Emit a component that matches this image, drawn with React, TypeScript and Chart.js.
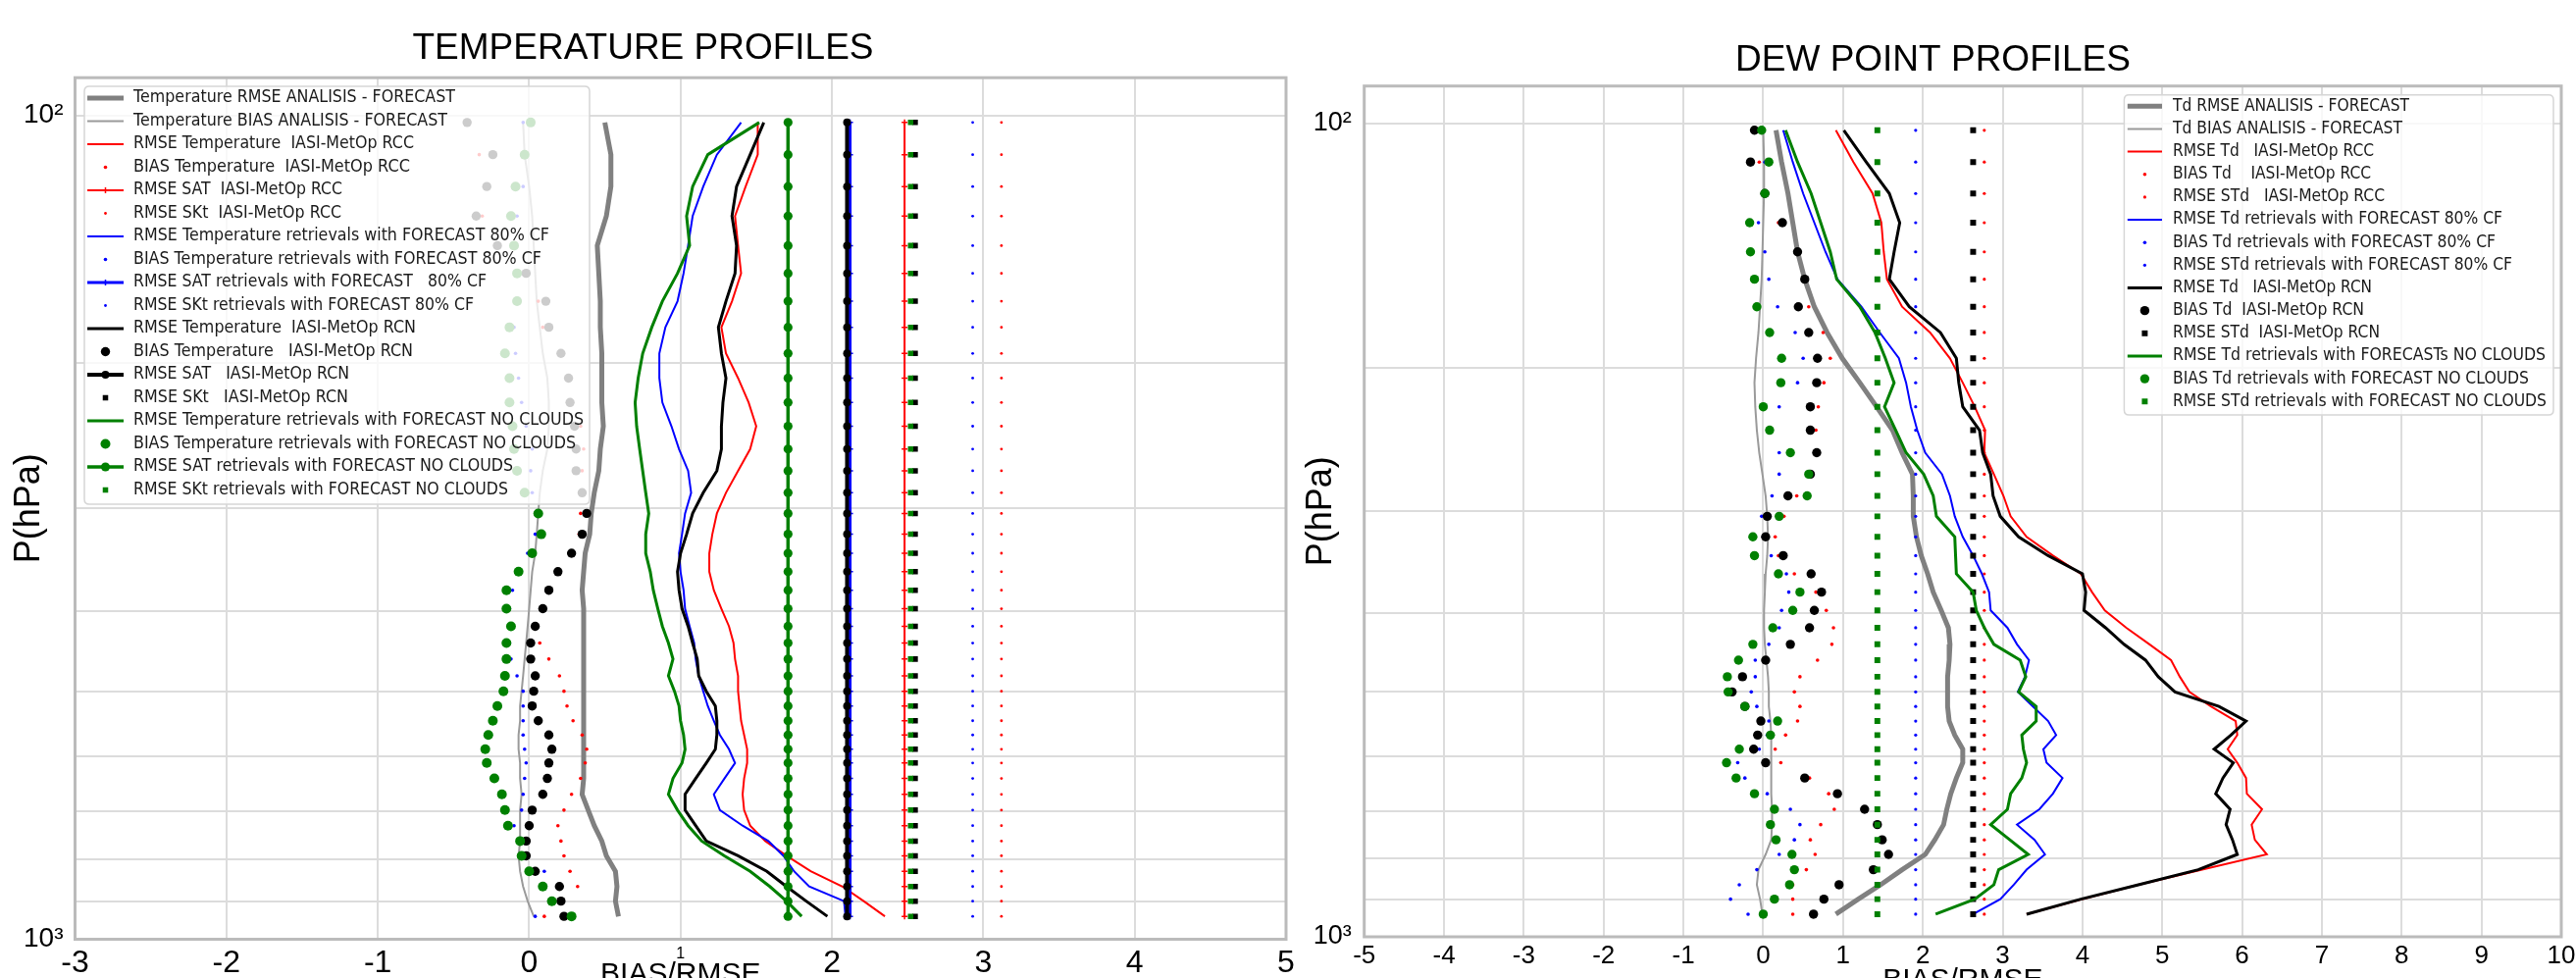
import React, { useEffect, useRef } from 'react';
import { Chart, registerables } from 'chart.js';

Chart.register(...registerables);

const SANS = '"Liberation Sans", Arial, Helvetica, sans-serif';
const LEGEND_FONT = '"DejaVu Sans", "Liberation Sans", sans-serif';

// ---------- data ----------
const LEVELS = [102, 111.6, 122, 132.5, 143.9, 155.5, 168.1, 180.8, 194.5, 208.4, 223.1, 238.4, 254.1, 270, 287.1, 304.2, 322.4, 340, 358, 377, 397, 417, 437, 457, 479, 500, 521, 543, 565, 588, 611, 638, 667, 697, 728, 760, 792, 827, 863, 899, 938];
const Y_TICKS = [100, 200, 300, 400, 500, 600, 700, 800, 900, 1000];
const Y_TICK_LABELS: Record<number, string> = { 100: '10²', 1000: '10³' };
const T_X_TICKS = [-3, -2, -1, 0, 1, 2, 3, 4, 5];
const TD_X_TICKS = [-5, -4, -3, -2, -1, 0, 1, 2, 3, 4, 5, 6, 7, 8, 9, 10];

// Temperature profiles
const T_RMSE_ANA = [0.50, 0.54, 0.54, 0.51, 0.45, 0.46, 0.47, 0.47, 0.48, 0.48, 0.48, 0.49, 0.47, 0.46, 0.43, 0.41, 0.40, 0.37, 0.36, 0.35, 0.36, 0.36, 0.36, 0.36, 0.36, 0.36, 0.36, 0.36, 0.36, 0.36, 0.36, 0.36, 0.35, 0.39, 0.43, 0.48, 0.51, 0.57, 0.58, 0.57, 0.59];
const T_BIAS_ANA = [-0.04, -0.03, 0.00, 0.02, 0.03, 0.04, 0.05, 0.07, 0.09, 0.12, 0.13, 0.13, 0.12, 0.09, 0.07, 0.06, 0.05, 0.04, 0.02, 0.01, 0.00, -0.01, -0.02, -0.03, -0.04, -0.05, -0.06, -0.06, -0.07, -0.07, -0.06, -0.06, -0.05, -0.06, -0.06, -0.06, -0.07, -0.06, -0.04, -0.01, 0.03];
const T_RMSE_RCC = [1.51, 1.51, 1.43, 1.36, 1.38, 1.40, 1.34, 1.27, 1.30, 1.38, 1.45, 1.50, 1.46, 1.38, 1.30, 1.24, 1.21, 1.19, 1.19, 1.22, 1.27, 1.32, 1.35, 1.36, 1.38, 1.38, 1.39, 1.40, 1.42, 1.44, 1.44, 1.42, 1.41, 1.42, 1.46, 1.56, 1.70, 1.86, 2.07, 2.21, 2.35];
const T_BIAS_RCC = [-0.40, -0.33, -0.28, -0.31, -0.20, -0.02, 0.06, 0.09, 0.20, 0.26, 0.27, 0.34, 0.36, 0.35, 0.35, 0.34, 0.33, 0.27, 0.19, 0.13, 0.09, 0.05, 0.07, 0.13, 0.20, 0.23, 0.25, 0.29, 0.35, 0.38, 0.37, 0.34, 0.28, 0.23, 0.19, 0.21, 0.23, 0.27, 0.32, 0.22, 0.10];
const T_SAT_RCC = 2.48;
const T_SKT_RCC = 3.12;
const T_RMSE_CF = [1.40, 1.24, 1.15, 1.08, 1.05, 1.02, 0.98, 0.90, 0.86, 0.86, 0.88, 0.94, 0.99, 1.05, 1.07, 1.03, 1.01, 0.99, 1.00, 1.02, 1.03, 1.06, 1.09, 1.10, 1.12, 1.15, 1.18, 1.22, 1.26, 1.32, 1.36, 1.29, 1.22, 1.26, 1.41, 1.58, 1.68, 1.75, 1.85, 2.08, 2.09];
const T_BIAS_CF = [-0.04, -0.04, -0.04, -0.08, -0.09, -0.09, -0.09, -0.10, -0.09, -0.07, -0.05, -0.02, 0.02, 0.01, 0.02, 0.05, 0.04, -0.01, -0.07, -0.11, -0.13, -0.12, -0.13, -0.12, -0.08, -0.04, -0.04, -0.04, -0.04, -0.03, -0.02, -0.03, -0.04, -0.05, -0.10, -0.06, -0.04, 0.10, 0.09, 0.14, 0.04];
const T_SAT_CF = 2.12;
const T_SKT_CF = 2.93;
const T_RMSE_RCN = [1.55, 1.46, 1.37, 1.34, 1.37, 1.36, 1.30, 1.25, 1.27, 1.30, 1.28, 1.27, 1.27, 1.24, 1.15, 1.08, 1.04, 1.00, 0.98, 0.99, 1.01, 1.05, 1.08, 1.11, 1.12, 1.17, 1.23, 1.24, 1.24, 1.23, 1.17, 1.10, 1.03, 1.03, 1.10, 1.17, 1.38, 1.57, 1.70, 1.83, 1.97];
const T_BIAS_RCN = [-0.41, -0.24, -0.28, -0.35, -0.21, -0.02, 0.11, 0.13, 0.21, 0.26, 0.27, 0.30, 0.31, 0.31, 0.35, 0.38, 0.35, 0.28, 0.19, 0.13, 0.09, 0.04, 0.01, 0.01, 0.04, 0.03, 0.02, 0.06, 0.13, 0.15, 0.13, 0.12, 0.09, 0.02, 0.00, -0.02, -0.02, 0.04, 0.20, 0.21, 0.23];
const T_SAT_RCN = 2.10;
const T_SKT_RCN = 2.55;
const T_RMSE_NC = [1.52, 1.18, 1.08, 1.04, 1.06, 0.98, 0.88, 0.81, 0.75, 0.72, 0.70, 0.71, 0.73, 0.75, 0.77, 0.79, 0.77, 0.77, 0.80, 0.82, 0.85, 0.88, 0.92, 0.95, 0.92, 0.96, 0.99, 1.00, 1.02, 1.03, 1.01, 0.95, 0.92, 0.98, 1.05, 1.14, 1.29, 1.46, 1.59, 1.70, 1.80];
const T_BIAS_NC = [0.01, -0.03, -0.09, -0.12, -0.10, -0.08, -0.08, -0.13, -0.16, -0.13, -0.13, -0.11, -0.10, -0.08, -0.03, 0.06, 0.08, 0.02, -0.07, -0.15, -0.15, -0.12, -0.15, -0.15, -0.16, -0.17, -0.21, -0.24, -0.27, -0.29, -0.28, -0.23, -0.18, -0.16, -0.14, -0.06, -0.05, 0.00, 0.09, 0.15, 0.28];
const T_SAT_NC = 1.71;
const T_SKT_NC = 2.52;

// Dew point profiles
const TD_RMSE_ANA = [0.16, 0.23, 0.31, 0.37, 0.43, 0.52, 0.64, 0.80, 0.99, 1.21, 1.42, 1.62, 1.74, 1.87, 1.88, 1.88, 1.92, 1.98, 2.06, 2.13, 2.23, 2.32, 2.34, 2.33, 2.31, 2.31, 2.31, 2.33, 2.40, 2.50, 2.50, 2.42, 2.35, 2.30, 2.26, 2.15, 2.03, 1.74, 1.47, 1.19, 0.91];
const TD_BIAS_ANA = [0.00, 0.01, 0.01, 0.00, -0.01, -0.02, -0.04, -0.06, -0.09, -0.11, -0.10, -0.08, -0.05, -0.01, 0.03, 0.05, 0.06, 0.05, 0.03, 0.02, 0.01, 0.01, 0.02, 0.04, 0.06, 0.07, 0.07, 0.09, 0.10, 0.10, 0.10, 0.10, 0.10, 0.11, 0.11, 0.10, 0.03, -0.06, -0.08, -0.04, -0.01];
const TD_RMSE_RCC = [0.91, 1.13, 1.37, 1.48, 1.51, 1.55, 1.74, 2.09, 2.34, 2.50, 2.65, 2.78, 2.77, 2.89, 3.01, 3.10, 3.30, 3.63, 3.98, 4.12, 4.28, 4.55, 4.84, 5.11, 5.22, 5.34, 5.61, 5.92, 5.94, 5.82, 5.94, 6.05, 6.06, 6.25, 6.12, 6.16, 6.31, 5.50, 4.70, 4.00, 3.30];
const TD_BIAS_RCC = [-0.05, -0.05, 0.05, 0.19, 0.40, 0.50, 0.57, 0.75, 0.84, 0.76, 0.69, 0.66, 0.68, 0.60, 0.42, 0.26, 0.15, 0.19, 0.39, 0.66, 0.79, 0.88, 0.86, 0.68, 0.46, 0.39, 0.46, 0.43, 0.28, 0.15, 0.22, 0.58, 0.82, 0.89, 0.72, 0.59, 0.65, 0.54, 0.37, 0.37, 0.37];
const TD_STD_RCC = 2.77;
const TD_RMSE_CF = [0.25, 0.37, 0.50, 0.64, 0.78, 0.93, 1.23, 1.46, 1.70, 1.79, 1.85, 1.93, 2.03, 2.24, 2.34, 2.40, 2.50, 2.63, 2.74, 2.83, 2.85, 3.06, 3.18, 3.33, 3.28, 3.19, 3.38, 3.57, 3.67, 3.51, 3.55, 3.75, 3.63, 3.46, 3.18, 3.40, 3.53, 3.30, 3.14, 2.97, 2.63];
const TD_BIAS_CF = [0.00, 0.02, 0.04, -0.06, 0.02, 0.07, 0.18, 0.40, 0.50, 0.43, 0.20, 0.08, 0.20, 0.20, 0.11, -0.02, 0.00, 0.10, 0.29, 0.32, 0.23, 0.20, 0.07, -0.10, -0.10, -0.15, -0.08, 0.07, 0.05, -0.05, -0.32, -0.23, 0.05, 0.34, 0.46, 0.39, 0.20, -0.08, -0.30, -0.41, -0.19];
const TD_STD_CF = 1.91;
const TD_RMSE_RCN = [1.01, 1.29, 1.58, 1.71, 1.64, 1.58, 1.83, 2.22, 2.42, 2.45, 2.50, 2.71, 2.75, 2.85, 2.88, 2.97, 3.20, 3.57, 4.00, 4.04, 4.02, 4.29, 4.52, 4.79, 4.95, 5.16, 5.71, 6.05, 5.86, 5.65, 5.89, 5.76, 5.67, 5.85, 5.80, 5.88, 5.94, 5.45, 4.70, 3.98, 3.30];
const TD_BIAS_RCN = [-0.11, -0.16, 0.02, 0.24, 0.43, 0.52, 0.44, 0.57, 0.68, 0.67, 0.59, 0.59, 0.67, 0.59, 0.31, 0.05, 0.03, 0.25, 0.60, 0.73, 0.64, 0.58, 0.34, 0.03, -0.26, -0.39, -0.23, -0.03, -0.07, -0.12, 0.03, 0.52, 0.93, 1.27, 1.43, 1.49, 1.57, 1.38, 0.95, 0.76, 0.63];
const TD_STD_RCN = 2.63;
const TD_RMSE_NC = [0.28, 0.43, 0.60, 0.72, 0.84, 0.92, 1.21, 1.40, 1.53, 1.64, 1.52, 1.66, 1.79, 2.01, 2.13, 2.17, 2.40, 2.41, 2.42, 2.63, 2.67, 2.77, 2.89, 3.22, 3.29, 3.20, 3.42, 3.42, 3.24, 3.26, 3.30, 3.24, 3.10, 3.06, 2.85, 3.09, 3.32, 2.95, 2.89, 2.65, 2.16];
const TD_BIAS_NC = [-0.02, 0.07, 0.02, -0.17, -0.16, -0.11, -0.08, 0.08, 0.23, 0.22, 0.00, 0.08, 0.34, 0.57, 0.55, 0.20, -0.13, -0.11, 0.19, 0.46, 0.37, 0.12, -0.13, -0.31, -0.45, -0.44, -0.23, 0.18, 0.09, -0.30, -0.46, -0.34, -0.11, 0.14, 0.09, 0.16, 0.36, 0.39, 0.33, 0.14, 0.00];
const TD_STD_NC = 1.43;

// ---------- styling ----------
const RED = '#ff0000';
const BLUE = '#0000ff';
const BLACK = '#000000';
const GREEN = '#008000';
const GRAY = '#808080';
const LIGHTGRAY = '#9a9a9a';
const GRID = '#dcdcdc';
const FRAME = '#bbbbbb';

// rendered widths (px) of the legend texts, as measured on the reference
const T_LEGEND_TEXT_W = [328, 320, 286, 282, 213, 212, 424, 416, 360, 347, 288, 285, 220, 219, 459, 451, 387, 382];
const TD_LEGEND_TEXT_W = [241, 234, 205, 202, 216, 336, 329, 346, 203, 195, 211, 380, 363, 381];

const profile = (vals: number[]) => vals.map((x, i) => ({ x, y: LEVELS[i] }));
const column = (x: number) => LEVELS.map((y) => ({ x, y }));

const line = (label: string, data: any[], color: string, width: number) => ({
  label, data, showLine: true, borderColor: color, backgroundColor: color, borderWidth: width,
  pointRadius: 0, pointHoverRadius: 0, pointHitRadius: 0, tension: 0, fill: false,
});
const dots = (label: string, data: any[], color: string, radius: number, style = 'circle') => ({
  label, data, showLine: false, borderColor: color, backgroundColor: color,
  pointBackgroundColor: color, pointBorderColor: color, pointBorderWidth: 0,
  pointRadius: radius, pointHoverRadius: radius, pointStyle: style,
});
const linePts = (label: string, data: any[], color: string, width: number, radius: number, style: string, pbw = 0) => ({
  label, data, showLine: true, borderColor: color, backgroundColor: color, borderWidth: width,
  pointBackgroundColor: color, pointBorderColor: color, pointBorderWidth: pbw,
  pointRadius: radius, pointHoverRadius: radius, pointStyle: style, tension: 0, fill: false,
});

function drawMarker(ctx: CanvasRenderingContext2D, style: string, x: number, y: number, r: number, fill: string, stroke: string, bw: number) {
  ctx.save();
  ctx.fillStyle = fill;
  ctx.strokeStyle = stroke;
  ctx.lineWidth = bw || 1.5;
  if (style === 'rect') {
    const s = r * Math.SQRT1_2;
    ctx.fillRect(x - s, y - s, 2 * s, 2 * s);
  } else if (style === 'cross') {
    ctx.beginPath();
    ctx.moveTo(x - r, y); ctx.lineTo(x + r, y);
    ctx.moveTo(x, y - r); ctx.lineTo(x, y + r);
    ctx.stroke();
  } else {
    ctx.beginPath();
    ctx.arc(x, y, r, 0, Math.PI * 2);
    ctx.fill();
  }
  ctx.restore();
}

const boxLegend = {
  id: 'boxLegend',
  afterDatasetsDraw(chart: any, _args: any, opts: any) {
    const ctx: CanvasRenderingContext2D = chart.ctx;
    const a = chart.chartArea;
    ctx.save();
    ctx.strokeStyle = FRAME;
    ctx.lineWidth = 3;
    ctx.strokeRect(a.left, a.top, a.right - a.left, a.bottom - a.top);
    ctx.restore();
    if (!opts || !opts.box) return;
    const { x, y, w, h } = opts.box;
    ctx.save();
    const r = 5;
    ctx.beginPath();
    ctx.moveTo(x + r, y);
    ctx.lineTo(x + w - r, y);
    ctx.quadraticCurveTo(x + w, y, x + w, y + r);
    ctx.lineTo(x + w, y + h - r);
    ctx.quadraticCurveTo(x + w, y + h, x + w - r, y + h);
    ctx.lineTo(x + r, y + h);
    ctx.quadraticCurveTo(x, y + h, x, y + h - r);
    ctx.lineTo(x, y + r);
    ctx.quadraticCurveTo(x, y, x + r, y);
    ctx.closePath();
    ctx.fillStyle = 'rgba(255,255,255,0.8)';
    ctx.fill();
    ctx.strokeStyle = '#d6d6d6';
    ctx.lineWidth = 1.5;
    ctx.stroke();

    ctx.font = `${opts.fontSize}px ${LEGEND_FONT}`;
    const datasets = chart.data.datasets;
    datasets.forEach((ds: any, i: number) => {
      const cy = opts.rowStart + i * opts.rowStep;
      const x0 = opts.lineX0;
      const x1 = opts.lineX1;
      const cx = (x0 + x1) / 2;
      if (ds.showLine) {
        ctx.beginPath();
        ctx.moveTo(x0, cy);
        ctx.lineTo(x1, cy);
        ctx.strokeStyle = ds.borderColor;
        ctx.lineWidth = ds.borderWidth;
        ctx.stroke();
      }
      if (ds.pointRadius > 0) {
        drawMarker(ctx, ds.pointStyle, cx, cy, ds.pointRadius, ds.pointBackgroundColor, ds.pointBorderColor, ds.pointBorderWidth);
      }
      const natural = ctx.measureText(ds.label).width || 1;
      const sx = (opts.textWidths && opts.textWidths[i] ? opts.textWidths[i] : natural) / natural;
      ctx.save();
      ctx.translate(opts.textX, cy);
      ctx.scale(sx, 1);
      ctx.fillStyle = '#1a1a1a';
      ctx.textBaseline = 'middle';
      ctx.textAlign = 'left';
      ctx.fillText(ds.label, 0, 0);
      ctx.restore();
    });
    ctx.restore();
  },
};

function withOrder(list: any[]) {
  return list.map((d, i) => ({ ...d, order: -i }));
}

function buildTemperature(): any {
  const datasets = withOrder([
    line('Temperature RMSE ANALISIS - FORECAST', profile(T_RMSE_ANA), GRAY, 5),
    line('Temperature BIAS ANALISIS - FORECAST', profile(T_BIAS_ANA), LIGHTGRAY, 2),
    line('RMSE Temperature  IASI-MetOp RCC', profile(T_RMSE_RCC), RED, 2),
    dots('BIAS Temperature  IASI-MetOp RCC', profile(T_BIAS_RCC), RED, 1.8),
    linePts('RMSE SAT  IASI-MetOp RCC', column(T_SAT_RCC), RED, 2, 3, 'cross', 1.5),
    dots('RMSE SKt  IASI-MetOp RCC', column(T_SKT_RCC), RED, 1.4),
    line('RMSE Temperature retrievals with FORECAST 80% CF', profile(T_RMSE_CF), BLUE, 2),
    dots('BIAS Temperature retrievals with FORECAST 80% CF', profile(T_BIAS_CF), BLUE, 1.8),
    linePts('RMSE SAT retrievals with FORECAST   80% CF', column(T_SAT_CF), BLUE, 3, 3, 'cross', 1.5),
    dots('RMSE SKt retrievals with FORECAST 80% CF', column(T_SKT_CF), BLUE, 1.4),
    line('RMSE Temperature  IASI-MetOp RCN', profile(T_RMSE_RCN), BLACK, 3),
    dots('BIAS Temperature   IASI-MetOp RCN', profile(T_BIAS_RCN), BLACK, 4.7),
    linePts('RMSE SAT   IASI-MetOp RCN', column(T_SAT_RCN), BLACK, 4, 4, 'circle'),
    dots('RMSE SKt   IASI-MetOp RCN', column(T_SKT_RCN), BLACK, 3.9, 'rect'),
    line('RMSE Temperature retrievals with FORECAST NO CLOUDS', profile(T_RMSE_NC), GREEN, 3),
    dots('BIAS Temperature retrievals with FORECAST NO CLOUDS', profile(T_BIAS_NC), GREEN, 5),
    linePts('RMSE SAT retrievals with FORECAST NO CLOUDS', column(T_SAT_NC), GREEN, 3.5, 4.6, 'circle'),
    dots('RMSE SKt retrievals with FORECAST NO CLOUDS', column(T_SKT_NC), GREEN, 3.9, 'rect'),
  ]);
  return {
    type: 'scatter',
    data: { datasets },
    options: {
      responsive: false,
      animation: false,
      devicePixelRatio: 1,
      events: [],
      layout: { padding: { left: 0, right: 19, top: 0, bottom: 0 } },
      plugins: {
        legend: { display: false },
        tooltip: { enabled: false },
        title: {
          display: true, text: 'TEMPERATURE PROFILES', color: '#000',
          font: { family: SANS, size: 37, weight: 'normal' },
          padding: { top: 27.8, bottom: 7 },
        },
        boxLegend: {
          box: { x: 86, y: 88, w: 515, h: 426 },
          rowStart: 100, rowStep: 23.5, lineX0: 89, lineX1: 126, textX: 136,
          fontSize: 17, textWidths: T_LEGEND_TEXT_W,
        },
      },
      scales: {
        x: {
          type: 'linear', min: -3, max: 5,
          afterBuildTicks: (s: any) => { s.ticks = T_X_TICKS.map((v) => ({ value: v })); },
          ticks: {
            autoSkip: false, maxRotation: 0, padding: 5, color: '#000',
            callback: (v: any) => String(v),
            font: (c: any) => ({ family: SANS, size: c.tick && c.tick.value === 1 ? 16 : 32 }),
          },
          grid: { color: GRID, lineWidth: 2, drawTicks: false },
          border: { display: false },
          title: {
            display: true, text: 'BIAS/RMSE', color: '#000',
            font: { family: SANS, size: 30 }, padding: { top: 0, bottom: -15 },
          },
          afterFit: (s: any) => { s.height = 39.5; s.paddingLeft = 0; s.paddingRight = 0; },
        },
        y: {
          type: 'logarithmic', min: 90, max: 1000, reverse: true,
          afterBuildTicks: (s: any) => { s.ticks = Y_TICKS.map((v) => ({ value: v })); },
          ticks: {
            autoSkip: false, padding: 12, color: '#000',
            font: { family: SANS, size: 28 },
            callback: (v: any) => Y_TICK_LABELS[v] || '',
          },
          grid: { color: GRID, lineWidth: 2, drawTicks: false },
          border: { display: false },
          title: {
            display: true, text: 'P(hPa)', color: '#000',
            font: { family: SANS, size: 36 }, padding: { top: 8.4, bottom: 0 },
          },
          afterFit: (s: any) => { s.width = 76.5; s.paddingTop = 0; s.paddingBottom = 0; },
        },
      },
    },
    plugins: [boxLegend],
  };
}

function buildDewPoint(): any {
  const datasets = withOrder([
    line('Td RMSE ANALISIS - FORECAST', profile(TD_RMSE_ANA), GRAY, 5),
    line('Td BIAS ANALISIS - FORECAST', profile(TD_BIAS_ANA), LIGHTGRAY, 2),
    line('RMSE Td   IASI-MetOp RCC', profile(TD_RMSE_RCC), RED, 2),
    dots('BIAS Td    IASI-MetOp RCC', profile(TD_BIAS_RCC), RED, 1.8),
    dots('RMSE STd   IASI-MetOp RCC', column(TD_STD_RCC), RED, 1.6),
    line('RMSE Td retrievals with FORECAST 80% CF', profile(TD_RMSE_CF), BLUE, 2),
    dots('BIAS Td retrievals with FORECAST 80% CF', profile(TD_BIAS_CF), BLUE, 1.8),
    dots('RMSE STd retrievals with FORECAST 80% CF', column(TD_STD_CF), BLUE, 1.6),
    line('RMSE Td   IASI-MetOp RCN', profile(TD_RMSE_RCN), BLACK, 3),
    dots('BIAS Td  IASI-MetOp RCN', profile(TD_BIAS_RCN), BLACK, 4.7),
    dots('RMSE STd  IASI-MetOp RCN', column(TD_STD_RCN), BLACK, 4.2, 'rect'),
    line('RMSE Td retrievals with FORECASTs NO CLOUDS', profile(TD_RMSE_NC), GREEN, 3),
    dots('BIAS Td retrievals with FORECAST NO CLOUDS', profile(TD_BIAS_NC), GREEN, 4.7),
    dots('RMSE STd retrievals with FORECAST NO CLOUDS', column(TD_STD_NC), GREEN, 4.2, 'rect'),
  ]);
  return {
    type: 'scatter',
    data: { datasets },
    options: {
      responsive: false,
      animation: false,
      devicePixelRatio: 1,
      events: [],
      layout: { padding: { left: 0, right: 20, top: 0, bottom: 0 } },
      plugins: {
        legend: { display: false },
        tooltip: { enabled: false },
        title: {
          display: true, text: 'DEW POINT PROFILES', color: '#000',
          font: { family: SANS, size: 37, weight: 'normal' },
          padding: { top: 39.8, bottom: 3.5 },
        },
        boxLegend: {
          box: { x: 835.4, y: 96.7, w: 437.6, h: 326.3 },
          rowStart: 108.3, rowStep: 23.15, lineX0: 838.8, lineX1: 874, textX: 885,
          fontSize: 17, textWidths: TD_LEGEND_TEXT_W,
        },
      },
      scales: {
        x: {
          type: 'linear', min: -5, max: 10,
          afterBuildTicks: (s: any) => { s.ticks = TD_X_TICKS.map((v) => ({ value: v })); },
          ticks: {
            autoSkip: false, maxRotation: 0, padding: 4, color: '#000',
            callback: (v: any) => String(v),
            font: { family: SANS, size: 26 },
          },
          grid: { color: GRID, lineWidth: 2, drawTicks: false },
          border: { display: false },
          title: {
            display: true, text: 'BIAS/RMSE', color: '#000',
            font: { family: SANS, size: 30 }, padding: { top: 0, bottom: -21 },
          },
          afterFit: (s: any) => { s.height = 42; s.paddingLeft = 0; s.paddingRight = 0; },
        },
        y: {
          type: 'logarithmic', min: 90, max: 1000, reverse: true,
          afterBuildTicks: (s: any) => { s.ticks = Y_TICKS.map((v) => ({ value: v })); },
          ticks: {
            autoSkip: false, padding: 13, color: '#000',
            font: { family: SANS, size: 27 },
            callback: (v: any) => Y_TICK_LABELS[v] || '',
          },
          grid: { color: GRID, lineWidth: 2, drawTicks: false },
          border: { display: false },
          title: {
            display: true, text: 'P(hPa)', color: '#000',
            font: { family: SANS, size: 36 }, padding: { top: -4.6, bottom: 0 },
          },
          afterFit: (s: any) => { s.width = 60.7; s.paddingTop = 0; s.paddingBottom = 0; },
        },
      },
    },
    plugins: [boxLegend],
  };
}

function ProfileChart({ build, left, width }: { build: () => any; left: number; width: number }) {
  const ref = useRef<HTMLCanvasElement>(null);
  useEffect(() => {
    if (!ref.current) return;
    const chart = new Chart(ref.current, build());
    return () => chart.destroy();
  }, []);
  return (
    <canvas
      ref={ref}
      width={width}
      height={997}
      style={{ position: 'absolute', left, top: 0, width, height: 997, display: 'block' }}
    />
  );
}

export default function App() {
  return (
    <div style={{ position: 'absolute', left: 0, top: 0, width: 2626, height: 997, overflow: 'hidden', background: '#ffffff' }}>
      <ProfileChart build={buildTemperature} left={0} width={1330} />
      <ProfileChart build={buildDewPoint} left={1330} width={1301} />
    </div>
  );
}
